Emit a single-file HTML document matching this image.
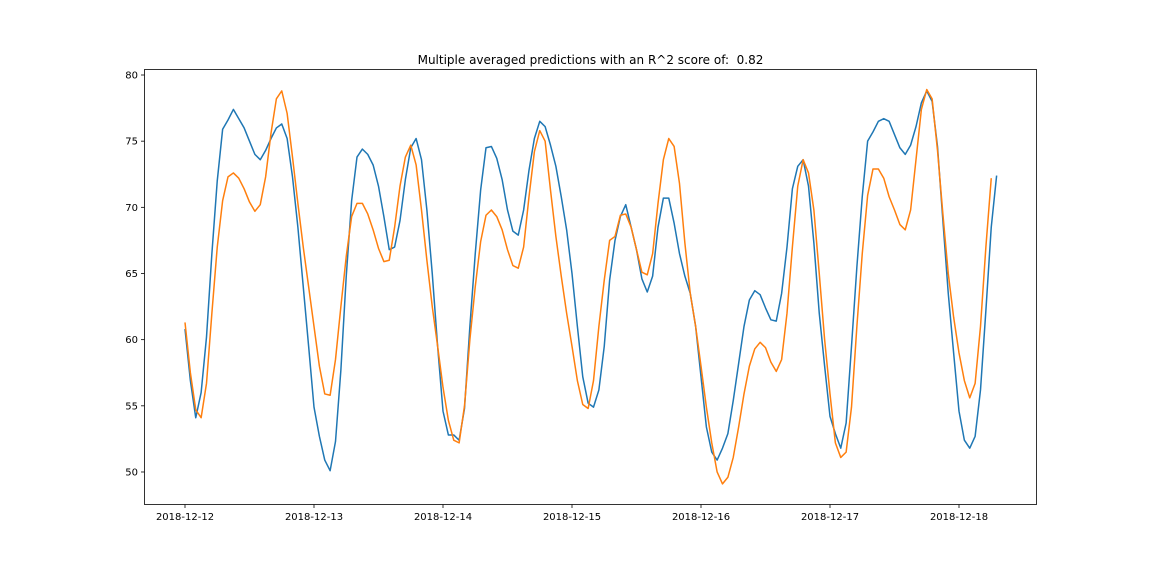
<!DOCTYPE html>
<html><head><meta charset="utf-8"><style>
body{margin:0;background:#fff;}
svg{display:block;font-family:"DejaVu Sans","Liberation Sans",sans-serif;}
</style></head><body>
<svg id="chart" width="1152" height="576" viewBox="0 0 1152 576">
<rect width="1152" height="576" fill="#fff"/>
<text x="590.5" y="64" font-size="12" text-anchor="middle">Multiple averaged predictions with an R^2 score of: &#160;0.82</text>
<g id="grid"></g>
<g id="series"></g>
<rect x="144.5" y="69.5" width="892" height="435" fill="none" stroke="#000" stroke-width="0.8"/>
<g id="axes"></g>
</svg>
<script>
const xTickLabels = ["2018-12-12","2018-12-13","2018-12-14","2018-12-15","2018-12-16","2018-12-17","2018-12-18"];
const xTickHours = [0,24,48,72,96,120,144];
const yTicks = [50,55,60,65,70,75,80];
const actualValues = [60.8,56.9,54.1,56.0,60.2,66.5,72.0,75.9,76.6,77.4,76.7,76.0,75.0,74.0,73.6,74.3,75.2,76.0,76.3,75.2,72.3,68.5,64.0,59.5,54.9,52.7,50.9,50.1,
52.3,57.7,64.8,70.5,73.8,74.4,74.0,73.2,71.6,69.3,66.8,67.0,69.0,72.1,74.5,75.2,73.6,69.8,65.0,59.5,54.6,52.8,52.8,52.4,54.8,61.0,
66.5,71.3,74.5,74.6,73.7,72.1,69.8,68.2,67.9,69.8,72.8,75.2,76.5,76.1,74.7,73.1,70.8,68.3,65.0,61.0,57.2,55.2,54.9,56.2,59.5,64.5,
67.5,69.3,70.2,68.5,66.8,64.6,63.6,64.8,68.5,70.7,70.7,68.8,66.5,64.8,63.5,61.0,57.2,53.4,51.5,50.9,
51.8,52.9,55.4,58.2,61.0,63.0,63.7,63.4,62.4,61.5,61.4,63.5,67.0,71.4,73.1,73.6,71.6,67.3,62.0,58.0,
54.2,52.9,51.8,53.7,59.5,65.5,70.8,75.0,75.7,76.5,76.7,76.5,75.5,74.5,74.0,74.7,76.1,77.9,78.8,78.0,
74.6,69.0,63.5,59.0,54.6,52.4,51.8,52.7,56.2,62.2,68.5,72.4];
const predictedValues = [61.3,57.5,54.7,54.1,56.7,62.0,67.0,70.5,72.3,72.6,72.2,71.4,70.4,69.7,70.2,72.3,75.6,78.2,78.8,77.1,73.8,70.3,67.0,64.0,61.0,58.0,55.9,55.8,
58.5,62.5,66.3,69.3,70.3,70.3,69.5,68.3,66.9,65.9,66.0,68.5,71.6,73.8,74.7,73.2,69.8,66.0,62.5,59.5,56.4,53.9,52.4,52.2,55.0,60.0,
64.0,67.4,69.4,69.8,69.3,68.3,66.8,65.6,65.4,67.0,70.8,74.2,75.8,75.0,71.3,67.8,64.8,62.0,59.5,56.9,55.1,54.8,56.9,61.0,64.5,67.5,
67.8,69.4,69.5,68.5,66.8,65.1,64.9,66.5,70.3,73.6,75.2,74.6,71.8,67.3,63.5,61.0,58.0,54.9,52.2,50.0,
49.1,49.6,51.1,53.4,55.9,58.0,59.3,59.8,59.4,58.3,57.6,58.5,62.0,67.0,71.6,73.6,72.6,69.8,65.0,60.0,
55.9,52.2,51.1,51.5,54.9,61.0,66.5,70.9,72.9,72.9,72.2,70.8,69.8,68.7,68.3,69.8,73.6,77.4,78.9,78.2,
74.3,69.5,65.0,61.7,59.0,56.9,55.6,56.7,61.0,67.0,72.2];

const NS="http://www.w3.org/2000/svg";
const X0=185, PXH=5.375, Y80=75, PXU=13.233;
function xs(h){return X0+h*PXH;}
function ys(v){return Y80+(80-v)*PXU;}
const axes=document.getElementById('axes');
xTickHours.forEach((h,i)=>{
  const x=xs(h);
  const t=document.createElementNS(NS,'line');
  t.setAttribute('x1',x);t.setAttribute('x2',x);t.setAttribute('y1',504.5);t.setAttribute('y2',508);
  t.setAttribute('stroke','#000');t.setAttribute('stroke-width','0.8');
  
  
  axes.appendChild(t);
  const l=document.createElementNS(NS,'text');
  l.setAttribute('x',x);l.setAttribute('y',520);l.setAttribute('font-size','10');l.setAttribute('text-anchor','middle');
  l.textContent=xTickLabels[i];
  
  
  axes.appendChild(l);
});
yTicks.forEach(v=>{
  const y=ys(v);
  const t=document.createElementNS(NS,'line');
  t.setAttribute('x1',141);t.setAttribute('x2',144.5);t.setAttribute('y1',y);t.setAttribute('y2',y);
  t.setAttribute('stroke','#000');t.setAttribute('stroke-width','0.8');
  
  
  axes.appendChild(t);
  const l=document.createElementNS(NS,'text');
  l.setAttribute('x',138);l.setAttribute('y',y+3.5);l.setAttribute('font-size','10');l.setAttribute('text-anchor','end');
  l.textContent=v;
  
  
  axes.appendChild(l);
});
const series=document.getElementById('series');
function drawLine(vals,color,name){
  const p=document.createElementNS(NS,'polyline');
  p.setAttribute('points',vals.map((v,i)=>xs(i).toFixed(2)+','+ys(v).toFixed(2)).join(' '));
  p.setAttribute('fill','none');p.setAttribute('stroke',color);p.setAttribute('stroke-width','1.5');
  p.setAttribute('stroke-linejoin','round');
  
  
  series.appendChild(p);
}
drawLine(actualValues,'#1f77b4','actual-line');
drawLine(predictedValues,'#ff7f0e','predicted-line');
</script>
</body></html>
